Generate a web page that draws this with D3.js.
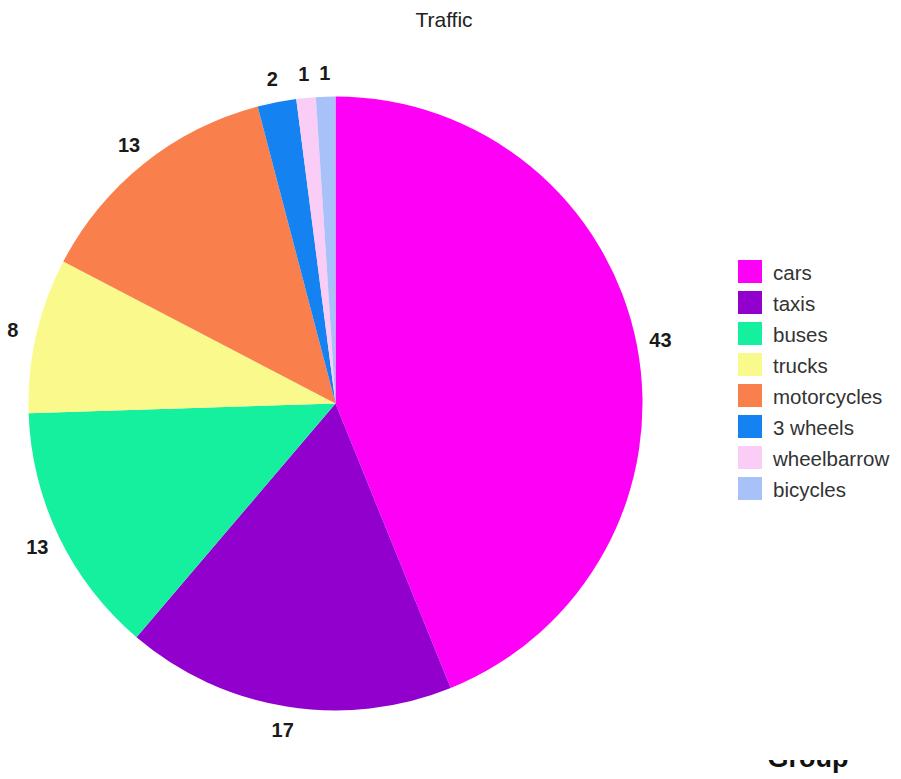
<!DOCTYPE html>
<html>
<head>
<meta charset="utf-8">
<script src="https://cdn.jsdelivr.net/npm/d3@7"></script>
<style>
  html, body { margin: 0; padding: 0; background: #fff; }
  svg { display: block; }
</style>
</head>
<body>
<svg id="chart" width="901" height="779"></svg>
<script>
const categories = ["cars", "taxis", "buses", "trucks", "motorcycles", "3 wheels", "wheelbarrow", "bicycles"];
const values = [43, 17, 13, 8, 13, 2, 1, 1];
const colors = ["#ff00f6", "#9100cc", "#14f09e", "#fafa8c", "#f97f4c", "#1582f2", "#f9cdf5", "#a8c2f9"];
const title = "Traffic";
const legendTitle = "Group";

const svg = d3.select("#chart");
const cx = 335.5, cy = 403.5, R = 307, labelR = 331;

const data = categories.map((c, i) => ({ cat: c, value: values[i], color: colors[i] }));

const pie = d3.pie().sort(null).value(d => d.value);
const arcs = pie(data);
const arc = d3.arc().innerRadius(0).outerRadius(R);
const labelArc = d3.arc().innerRadius(labelR).outerRadius(labelR);

const g = svg.append("g").attr("transform", `translate(${cx},${cy})`);
g.selectAll("path.slice").data(arcs).join("path")
  .attr("class", "slice")
  .attr("d", arc)
  .attr("fill", d => d.data.color);

g.selectAll("text.lbl").data(arcs).join("text")
  .attr("class", "lbl")
  .attr("transform", d => `translate(${labelArc.centroid(d)})`)
  .attr("text-anchor", "middle")
  .attr("dominant-baseline", "central")
  .attr("font-family", "Liberation Sans, Arial, sans-serif")
  .attr("font-weight", "bold")
  .attr("font-size", 20)
  .attr("fill", "#1a1a1a")
  .text(d => d.data.value);

svg.append("text")
  .attr("x", 444).attr("y", 27)
  .attr("text-anchor", "middle")
  .attr("font-family", "Liberation Sans, Arial, sans-serif")
  .attr("font-size", 21)
  .attr("fill", "#222")
  .text(title);

const legend = svg.append("g").attr("transform", "translate(738,260)");
const step = 31;
const items = legend.selectAll("g.item").data(data).join("g")
  .attr("class", "item")
  .attr("transform", (d, i) => `translate(0,${i * step})`);
items.append("rect")
  .attr("width", 24).attr("height", 23)
  .attr("fill", d => d.color);
items.append("text")
  .attr("x", 35).attr("y", 12)
  .attr("dominant-baseline", "central")
  .attr("font-family", "Liberation Sans, Arial, sans-serif")
  .attr("font-size", 20.5)
  .attr("fill", "#333")
  .text(d => d.cat);

// legend title, only its lower part visible at bottom edge
const defs = svg.append("defs");
defs.append("clipPath").attr("id", "gclip")
  .append("rect").attr("x", 700).attr("y", 760).attr("width", 201).attr("height", 19);
svg.append("text")
  .attr("clip-path", "url(#gclip)")
  .attr("x", 808).attr("y", 767)
  .attr("text-anchor", "middle")
  .attr("font-family", "Liberation Sans, Arial, sans-serif")
  .attr("font-weight", "bold")
  .attr("font-size", 27)
  .attr("fill", "#111")
  .text(legendTitle);
</script>
</body>
</html>
